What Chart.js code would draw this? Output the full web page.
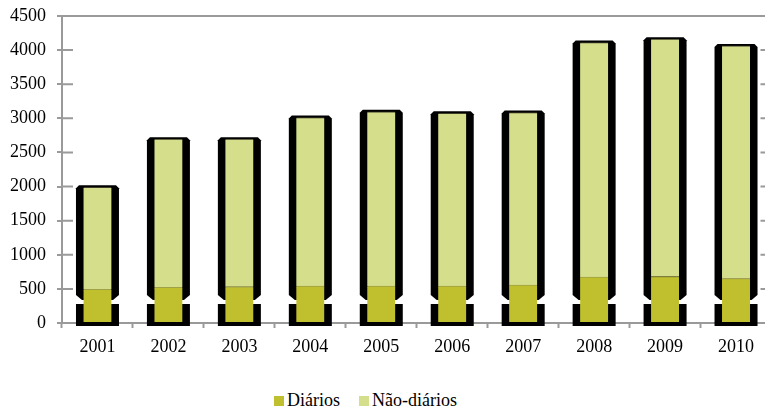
<!DOCTYPE html>
<html>
<head>
<meta charset="utf-8">
<script src="https://cdn.jsdelivr.net/npm/chart.js@4/dist/chart.umd.min.js"></script>
<style>
  html, body { margin: 0; padding: 0; background: #fff; overflow: hidden; }
  #wrap { position: absolute; left: 0; top: 0; width: 775px; height: 370px; }
  #legend { position: absolute; left: 274px; top: 391px; font: 18px "Liberation Serif", "Times New Roman", serif; line-height: 18px; color: #000; white-space: nowrap; }
  #legend .box { display: inline-block; width: 10px; height: 10px; margin-right: 3px; }
  #legend .item { display: inline-block; margin-right: 19px; }
</style>
</head>
<body>
<div id="wrap"><canvas id="c"></canvas></div>
<div id="legend"></div>
<script>
// Years on the category axis
const years = ['2001', '2002', '2003', '2004', '2005', '2006', '2007', '2008', '2009', '2010'];
// Daily consumers
const diarios = [495, 522, 530, 540, 540, 540, 555, 672, 682, 650];
// Non-daily consumers (stacked on top)
const naoDiarios = [1495, 2173, 2165, 2472, 2555, 2535, 2530, 3438, 3478, 3412];
// Value-axis ticks
const yTicks = [0, 500, 1000, 1500, 2000, 2500, 3000, 3500, 4000, 4500];

const colDiarios = 'rgb(192,192,46)';
const colNao = 'rgb(213,222,139)';
const axisGray = '#9a9a9a';
const serif = '"Liberation Serif", "Times New Roman", serif';

// Black frame drawn behind each stacked column
const frames = {
  id: 'frames',
  beforeDatasetsDraw(chart) {
    const ctx = chart.ctx;
    const y = chart.scales.y;
    const zero = y.getPixelForValue(0);
    const top = chart.getDatasetMeta(1).data;
    ctx.save();
    ctx.fillStyle = '#000';
    top.forEach(el => {
      const half = el.width / 2 + 7.5;
      const L = el.x - half, R = el.x + half;
      const t = el.y - 2;
      const b = zero - 23;
      ctx.beginPath();
      ctx.moveTo(L, t + 3);
      ctx.lineTo(L + 3, t);
      ctx.lineTo(R - 3, t);
      ctx.lineTo(R, t + 3);
      ctx.lineTo(R, b - 5);
      ctx.lineTo(R - 6, b);
      ctx.lineTo(L + 6, b);
      ctx.lineTo(L, b - 5);
      ctx.closePath();
      ctx.fill();
      ctx.fillRect(L, zero - 19, R - L, 22);
    });
    ctx.restore();
  },
  afterDraw(chart) {
    // inward tick marks on both vertical edges
    const ctx = chart.ctx;
    const a = chart.chartArea;
    const y = chart.scales.y;
    ctx.save();
    ctx.strokeStyle = axisGray;
    ctx.lineWidth = 2;
    yTicks.forEach(v => {
      const p = y.getPixelForValue(v);
      ctx.beginPath();
      ctx.moveTo(a.left, p); ctx.lineTo(a.left + 11, p);
      ctx.moveTo(a.right - 11, p); ctx.lineTo(a.right, p);
      ctx.stroke();
    });
    ctx.restore();
  }
};

new Chart(document.getElementById('c'), {
  type: 'bar',
  data: {
    labels: years,
    datasets: [
      { label: 'Diários', data: diarios, backgroundColor: colDiarios,
        borderColor: 'rgb(160,160,70)', borderWidth: { top: 1, left: 0, right: 0, bottom: 0 }, borderSkipped: false },
      { label: 'Não-diários', data: naoDiarios, backgroundColor: colNao,
        borderColor: 'rgb(60,60,40)', borderWidth: { top: 1, left: 0, right: 0, bottom: 0 }, borderSkipped: false }
    ]
  },
  options: {
    responsive: true,
    maintainAspectRatio: false,
    animation: false,
    barThickness: 28,
    layout: { padding: { top: 16, right: 3.5, left: 0, bottom: 0 } },
    plugins: { legend: { display: false }, tooltip: { enabled: false } },
    scales: {
      x: {
        stacked: true,
        z: 1,
        grid: { drawOnChartArea: false, tickLength: 5, tickColor: axisGray, tickWidth: 2, offset: true },
        border: { color: axisGray, width: 2 },
        ticks: { color: '#000', font: { family: serif, size: 18 }, padding: 8, maxRotation: 0 },
        afterFit(s) { s.height = 47; }
      },
      y: {
        stacked: true,
        min: 0,
        max: 4500,
        grid: {
          color: c => (c.tick && c.tick.value === 4500 ? axisGray : 'rgba(0,0,0,0)'),
          lineWidth: 2,
          tickLength: 5, tickColor: axisGray, tickWidth: 2
        },
        border: { color: axisGray, width: 2 },
        ticks: { stepSize: 500, color: '#000', font: { family: serif, size: 18 }, padding: 11,
                 callback: v => String(v) },
        afterFit(s) { s.width = 62; s.paddingTop = 0; s.paddingBottom = 0; }
      }
    }
  },
  plugins: [frames]
});

// legend under the chart
const legendItems = [['Diários', colDiarios], ['Não-diários', colNao]];
document.getElementById('legend').innerHTML = legendItems
  .map(([t, c]) => '<span class="item"><span class="box" style="background:' + c + '"></span>' + t + '</span>')
  .join('');
</script>
</body>
</html>
